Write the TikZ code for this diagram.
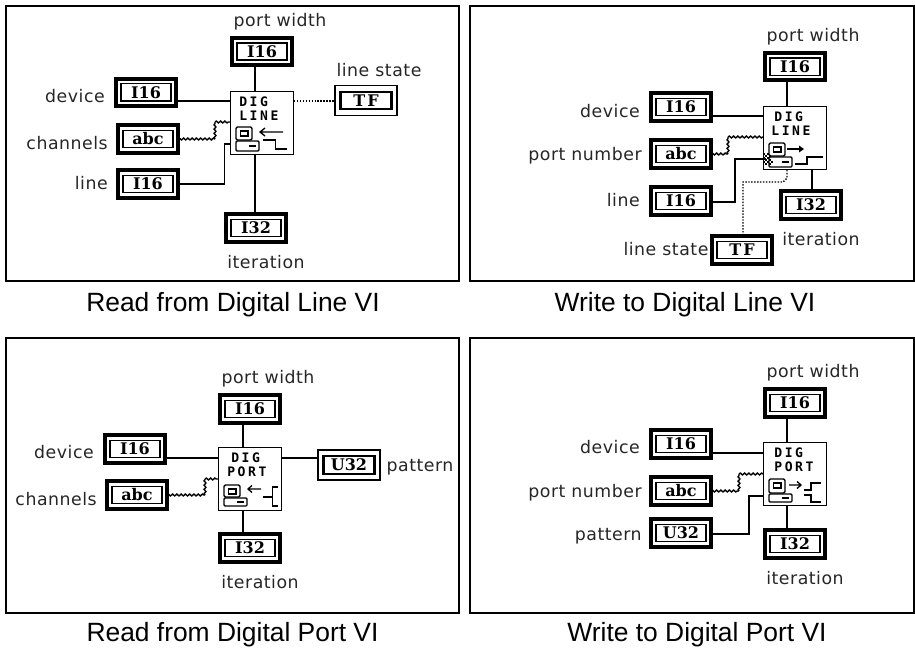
\documentclass[tikz,border=0pt]{standalone}
\usepackage{fontspec}
\setmainfont{Liberation Sans}
\newfontfamily\lblfont[LetterSpace=3]{DejaVu Sans}
\newfontfamily\termfont{DejaVu Serif}[BoldFont={DejaVu Serif Bold}]
\newfontfamily\digfont[LetterSpace=20]{DejaVu Sans Mono Bold}
\usetikzlibrary{decorations.pathmorphing}
\tikzset{
  x=0.75pt,y=-0.75pt,
  frame/.style={draw=black,line width=1.7pt},
  caption/.style={font=\fontsize{19.8pt}{22pt}\selectfont,inner sep=0pt},
  lbl/.style={font=\lblfont\fontsize{13pt}{15pt}\selectfont,inner sep=0pt,text=black!85},
  ctrlouter/.style={draw=black,fill=white,line width=3pt,minimum width=45pt,minimum height=20.6pt,inner sep=0pt,outer sep=0pt},
  ctrlinner/.style={draw=black,line width=1.2pt,minimum width=37.9pt,minimum height=13pt,inner sep=0pt,outer sep=0pt,font=\termfont\bfseries\fontsize{12pt}{12pt}\selectfont},
  indouter/.style={draw=black,fill=white,line width=1.2pt,minimum width=46.9pt,minimum height=22.5pt,inner sep=0pt,outer sep=0pt},
  indinner/.style={draw=black,line width=1.6pt,minimum width=38.25pt,minimum height=13pt,inner sep=0pt,outer sep=0pt,font=\termfont\bfseries\fontsize{12pt}{12pt}\selectfont},
  vibox/.style={draw=black,fill=white,line width=1pt,minimum width=47.3pt,minimum height=47.3pt,inner sep=0pt,outer sep=0pt},
  vitext/.style={font=\digfont\fontsize{9.8pt}{10pt}\selectfont,inner sep=0pt,anchor=west},
  wire/.style={draw=black,line width=1.05pt},
  dotwire/.style={draw=black,line width=1.05pt,dash pattern=on 1.1pt off 1.1pt},
  strwire/.style={draw=black,line width=1.05pt,decorate,decoration={snake,segment length=3.2pt,amplitude=0.7pt}},
  picon/.style={draw=black,line width=1pt},
}
% style prefix, name, x, y, text
\newcommand{\vterm}[5]{%
  \node[#1outer] (#2) at (#3,#4) {};
  \node[#1inner] (#2txt) at (#2) {#5};}
% name, x, y (top-left), line 1 x, line 1, line 2 x, line 2
\newcommand{\viframe}[7]{%
  \node[vibox] (#1) at (#2+32,#3+32) {};
  \node[vitext] (#1a) at (#2+#4,#3+11) {#5};
  \node[vitext] (#1b) at (#2+#6,#3+25) {#7};}
% x, y of icon, monitor top, base top, base bottom
\newcommand{\vipc}[5]{%
  \begin{scope}[shift={(#1,#2)}]
    \draw[picon,rounded corners=1pt] (6,#3) rectangle (22,#4-1);
    \draw[picon] (10.5,#3+4) rectangle (18,#3+9);
    \draw[picon,rounded corners=0.8pt] (6,#4) rectangle (29,#5);
    \draw[picon] (19,{(#4+#5)/2}) -- (25.5,{(#4+#5)/2});
  \end{scope}}
\begin{document}
\begin{tikzpicture}
\useasboundingbox (0,0) rectangle (915,647);

% panels
\draw[frame] (6,6) rectangle (459,281);
\draw[frame] (470,6) rectangle (914,281);
\draw[frame] (6,338) rectangle (459,613);
\draw[frame] (470,338) rectangle (914,613);

% ---------- panel 1 ----------
\viframe{vA}{230}{91}{9}{DIG}{9}{LINE}
\vipc{230}{91}{36}{50}{60}
\begin{scope}[shift={(230,91)}]
  \draw[picon,line width=1pt] (53,41) -- (30,41) (35,37) -- (30,41) -- (35,45);
  \draw[picon,line width=1pt] (33,49) -- (45.6,49) -- (45.6,58) -- (57,58);
\end{scope}
\vterm{ctrl}{aw}{262}{51.5}{I16}
\vterm{ctrl}{ad}{146}{92.3}{I16}
\vterm{ctrl}{ac}{148}{139}{abc}
\vterm{ctrl}{al}{148}{184}{I16}
\vterm{ind}{as}{366}{100.5}{T\kern1.5pt F}
\vterm{ctrl}{ai}{256}{228}{I32}
\coordinate (aT) at (255,91);
\coordinate (aB) at (255,154);
\coordinate (aD) at (230,101);
\coordinate (aC) at (230,122);
\coordinate (aL) at (230,144);
\coordinate (aR) at (294,101);
\coordinate (aCb) at (215,139);
\coordinate (aCt) at (215,122);
\coordinate (aLb) at (224.5,184);
\coordinate (aLt) at (224.5,144);
\draw[wire] (aT |- aw.south) -- (aT);
\draw[wire] (aB) -- (aB |- ai.north);
\draw[wire] (ad.east |- aD) -- (aD);
\draw[strwire] (ac.east) -- (aCb);
\draw[strwire] (aCb) -- (aCt);
\draw[strwire] (aCt) -- (aC);
\draw[wire] (al.east) -- (aLb) -- (aLt) -- (aL);
\draw[dotwire] (aR) -- (as.west |- aR);
\node[lbl] (alw) at (280,22) {port width};
\node[lbl,anchor=east] (ald) at (105,96) {device};
\node[lbl,anchor=east] (alc) at (108,143) {channels};
\node[lbl,anchor=east] (all) at (108,183) {line};
\node[lbl] (als) at (379,70) {line state};
\node[lbl] (ali) at (266,262) {iteration};
\node[caption] (acap) at (233,305) {Read from Digital Line VI};

% ---------- panel 2 ----------
\viframe{vB}{763}{106}{11}{DIG}{8}{LINE}
\vipc{763}{106}{37}{51}{61}
\begin{scope}[shift={(763,106)}]
  \draw[picon,line width=1pt] (24,43) -- (38,43);
  \fill (41,43) -- (36,39.5) -- (36,46.5) -- cycle;
  \draw[picon,line width=1pt] (32,58) -- (44,58) -- (44,51) -- (60,51);
  \foreach \hx/\hy in {0/47,2/49,4/47,0/51,2/53,4/51,6/49,6/53,4/55,2/57,6/57,8/55,0/55}
    \fill (\hx,\hy) rectangle ++(1.6,1.6);
\end{scope}
\vterm{ctrl}{bw}{795}{66.7}{I16}
\vterm{ctrl}{bd}{681}{107}{I16}
\vterm{ctrl}{bc}{681}{154}{abc}
\vterm{ctrl}{bl}{681}{201}{I16}
\vterm{ctrl}{bi}{811}{205}{I32}
\vterm{ctrl}{bs}{742}{250}{T\kern1.5pt F}
\coordinate (bT) at (787,106);
\coordinate (bB) at (812,170);
\coordinate (bD) at (763,116);
\coordinate (bC) at (763,137);
\coordinate (bL) at (766,159);
\coordinate (bCb) at (728,154);
\coordinate (bCt) at (728,137);
\coordinate (bLb) at (735,202);
\coordinate (bLt) at (735,159);
\coordinate (bS0) at (787,170);
\coordinate (bS1) at (787,178);
\coordinate (bS2) at (783,182);
\coordinate (bS3) at (743,182);
\draw[wire] (bT |- bw.south) -- (bT);
\draw[wire] (bB) -- (bB |- bi.north);
\draw[wire] (bd.east |- bD) -- (bD);
\draw[strwire] (bc.east) -- (bCb);
\draw[strwire] (bCb) -- (bCt);
\draw[strwire] (bCt) -- (bC);
\draw[wire] (bl.east |- bLb) -- (bLb) -- (bLt) -- (bL);
\draw[dotwire] (bS0) -- (bS1) -- (bS2) -- (bS3) -- (bS3 |- bs.north);
\node[lbl] (blw) at (813,37) {port width};
\node[lbl,anchor=east] (bld) at (640,111) {device};
\node[lbl,anchor=east] (blc) at (642,156) {port number};
\node[lbl,anchor=east] (bll) at (640,200) {line};
\node[lbl] (bls) at (666,249) {line state};
\node[lbl] (bli) at (821,239) {iteration};
\node[caption] (bcap) at (685,305) {Write to Digital Line VI};

% ---------- panel 3 ----------
\viframe{vC}{218}{447}{13}{DIG}{9}{PORT}
\vipc{218}{447}{38}{51}{59}
\begin{scope}[shift={(218,447)}]
  \draw[picon,line width=1pt] (43,42) -- (30,42) (34,38.5) -- (30,42) -- (34,45.5);
  \draw[picon,line width=1pt] (45,50) -- (54.5,50) (60,40) -- (54.5,40) -- (54.5,59) -- (60,59);
\end{scope}
\vterm{ctrl}{cw}{250}{409}{I16}
\vterm{ctrl}{cd}{135}{449}{I16}
\vterm{ctrl}{cc}{137}{495}{abc}
\vterm{ind}{cp}{349}{465}{U32}
\vterm{ctrl}{ci}{250}{548}{I32}
\coordinate (cT) at (243,447);
\coordinate (cB) at (243,511);
\coordinate (cD) at (218,458);
\coordinate (cC) at (218,479);
\coordinate (cR) at (282,458);
\coordinate (cCb) at (205,495);
\coordinate (cCt) at (205,479);
\draw[wire] (cT |- cw.south) -- (cT);
\draw[wire] (cB) -- (cB |- ci.north);
\draw[wire] (cd.east |- cD) -- (cD);
\draw[wire] (cR) -- (cp.west |- cR);
\draw[strwire] (cc.east) -- (cCb);
\draw[strwire] (cCb) -- (cCt);
\draw[strwire] (cCt) -- (cC);
\node[lbl] (clw) at (268,379) {port width};
\node[lbl,anchor=east] (cld) at (94,452) {device};
\node[lbl,anchor=east] (clc) at (97,499) {channels};
\node[lbl] (clp) at (420,467) {pattern};
\node[lbl] (cli) at (260,582) {iteration};
\node[caption] (ccap) at (232.5,635) {Read from Digital Port VI};

% ---------- panel 4 ----------
\viframe{vD}{763}{442}{11}{DIG}{11}{PORT}
\vipc{763}{442}{37}{52}{60}
\begin{scope}[shift={(763,442)}]
  \draw[picon,line width=1pt] (26,43) -- (38,43) (34,39.5) -- (38,43) -- (34,46.5);
  \draw[picon,line width=1pt] (41,48) -- (48,48) -- (48,41) -- (58,41);
  \draw[picon,line width=1pt] (41,53) -- (48,53) -- (48,60) -- (58,60);
\end{scope}
\vterm{ctrl}{dw}{795}{403}{I16}
\vterm{ctrl}{dd}{681}{444}{I16}
\vterm{ctrl}{dc}{681}{491}{abc}
\vterm{ctrl}{dp}{681}{533}{U32}
\vterm{ctrl}{di}{795}{544}{I32}
\coordinate (dT) at (787,442);
\coordinate (dB) at (787,506);
\coordinate (dD) at (763,453);
\coordinate (dC) at (763,474);
\coordinate (dP) at (763,496);
\coordinate (dCb) at (739,491);
\coordinate (dCt) at (739,474);
\coordinate (dPb) at (749,534);
\coordinate (dPt) at (749,496);
\draw[wire] (dT |- dw.south) -- (dT);
\draw[wire] (dB) -- (dB |- di.north);
\draw[wire] (dd.east |- dD) -- (dD);
\draw[strwire] (dc.east) -- (dCb);
\draw[strwire] (dCb) -- (dCt);
\draw[strwire] (dCt) -- (dC);
\draw[wire] (dp.east |- dPb) -- (dPb) -- (dPt) -- (dP);
\node[lbl] (dlw) at (813,373) {port width};
\node[lbl,anchor=east] (dld) at (640,447) {device};
\node[lbl,anchor=east] (dlc) at (642,493) {port number};
\node[lbl,anchor=east] (dlp) at (642,536) {pattern};
\node[lbl] (dli) at (805,578) {iteration};
\node[caption] (dcap) at (697,635) {Write to Digital Port VI};
\end{tikzpicture}
\end{document}
